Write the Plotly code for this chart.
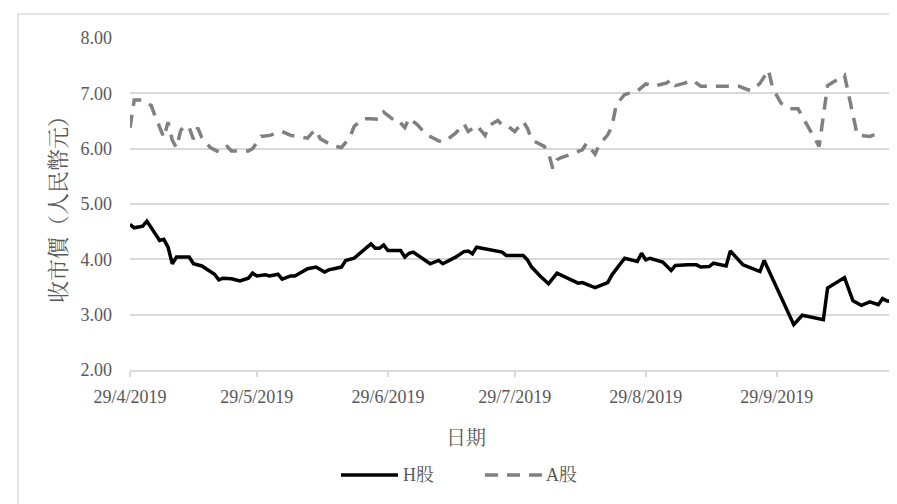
import plotly.graph_objects as go

# ---- data ----
h_dates = [
    "2019-04-29", "2019-04-30", "2019-05-02", "2019-05-03", "2019-05-06", "2019-05-07",
    "2019-05-08", "2019-05-09", "2019-05-10", "2019-05-13", "2019-05-14", "2019-05-16",
    "2019-05-17", "2019-05-19", "2019-05-20", "2019-05-21", "2019-05-23", "2019-05-25",
    "2019-05-27", "2019-05-28", "2019-05-29", "2019-05-31", "2019-06-01", "2019-06-03",
    "2019-06-04", "2019-06-06", "2019-06-07", "2019-06-10", "2019-06-12", "2019-06-14",
    "2019-06-15", "2019-06-18", "2019-06-19", "2019-06-21", "2019-06-25", "2019-06-26",
    "2019-06-27", "2019-06-28", "2019-06-29", "2019-07-02", "2019-07-03", "2019-07-04",
    "2019-07-05", "2019-07-09", "2019-07-11", "2019-07-12", "2019-07-15", "2019-07-17",
    "2019-07-18", "2019-07-19", "2019-07-20", "2019-07-22", "2019-07-25", "2019-07-26",
    "2019-07-27", "2019-07-31", "2019-08-01", "2019-08-02", "2019-08-04", "2019-08-06",
    "2019-08-08", "2019-08-10", "2019-08-12", "2019-08-13", "2019-08-14", "2019-08-17",
    "2019-08-20", "2019-08-21", "2019-08-24", "2019-08-27", "2019-08-28", "2019-08-29",
    "2019-08-30", "2019-09-02", "2019-09-04", "2019-09-05", "2019-09-08", "2019-09-10",
    "2019-09-11", "2019-09-13", "2019-09-14", "2019-09-17", "2019-09-18", "2019-09-21",
    "2019-09-23", "2019-09-25", "2019-09-26", "2019-10-03", "2019-10-05", "2019-10-10",
    "2019-10-11", "2019-10-15", "2019-10-17", "2019-10-19", "2019-10-21", "2019-10-23",
    "2019-10-24", "2019-10-25", "2019-10-26",
]
h_values = [
    4.63, 4.57, 4.60, 4.69, 4.34, 4.36,
    4.22, 3.92, 4.04, 4.04, 3.92, 3.88,
    3.83, 3.73, 3.63, 3.66, 3.65, 3.61,
    3.66, 3.75, 3.70, 3.72, 3.70, 3.73,
    3.64, 3.70, 3.70, 3.83, 3.86, 3.77,
    3.81, 3.86, 3.98, 4.02, 4.28, 4.20,
    4.20, 4.26, 4.16, 4.16, 4.04, 4.11,
    4.13, 3.92, 3.98, 3.92, 4.04, 4.14,
    4.15, 4.10, 4.22, 4.19, 4.14, 4.13,
    4.07, 4.07, 3.99, 3.86, 3.70, 3.56,
    3.75, 3.68, 3.62, 3.57, 3.58, 3.49,
    3.58, 3.72, 4.02, 3.96, 4.11, 3.99,
    4.02, 3.95, 3.80, 3.89, 3.90, 3.90,
    3.86, 3.87, 3.93, 3.88, 4.15, 3.90,
    3.84, 3.78, 3.98, 2.82, 2.99, 2.91,
    3.48, 3.67, 3.25, 3.17, 3.23, 3.18,
    3.29, 3.25, 3.24,
]

a_dates = [
    "2019-04-29", "2019-04-30", "2019-05-02", "2019-05-04", "2019-05-05", "2019-05-06",
    "2019-05-07", "2019-05-08", "2019-05-09", "2019-05-10", "2019-05-11", "2019-05-12",
    "2019-05-13", "2019-05-14", "2019-05-15", "2019-05-16", "2019-05-18", "2019-05-20",
    "2019-05-22", "2019-05-23", "2019-05-27", "2019-05-28", "2019-05-30", "2019-06-01",
    "2019-06-04", "2019-06-06", "2019-06-10", "2019-06-11", "2019-06-12", "2019-06-13",
    "2019-06-16", "2019-06-18", "2019-06-20", "2019-06-21", "2019-06-23", "2019-06-25",
    "2019-06-27", "2019-06-28", "2019-06-30", "2019-07-01", "2019-07-03", "2019-07-04",
    "2019-07-06", "2019-07-08", "2019-07-11", "2019-07-12", "2019-07-13", "2019-07-15",
    "2019-07-17", "2019-07-18", "2019-07-20", "2019-07-22", "2019-07-23", "2019-07-25",
    "2019-07-26", "2019-07-27", "2019-07-29", "2019-07-31", "2019-08-01", "2019-08-02",
    "2019-08-05", "2019-08-06", "2019-08-07", "2019-08-08", "2019-08-09", "2019-08-11",
    "2019-08-14", "2019-08-15", "2019-08-17", "2019-08-18", "2019-08-20", "2019-08-21",
    "2019-08-22", "2019-08-24", "2019-08-27", "2019-08-29", "2019-08-31", "2019-09-03",
    "2019-09-04", "2019-09-05", "2019-09-07", "2019-09-09", "2019-09-11", "2019-09-14",
    "2019-09-17", "2019-09-20", "2019-09-22", "2019-09-23", "2019-09-25", "2019-09-27",
    "2019-09-28", "2019-09-30", "2019-10-02", "2019-10-04", "2019-10-06", "2019-10-08",
    "2019-10-09", "2019-10-11", "2019-10-13", "2019-10-15", "2019-10-18", "2019-10-21",
    "2019-10-22", "2019-10-23",
]
a_values = [
    6.38, 6.88, 6.88, 6.78, 6.58, 6.37,
    6.20, 6.48, 6.15, 6.02, 6.33, 6.42,
    6.38, 6.17, 6.38, 6.20, 6.02, 5.94,
    6.04, 5.96, 5.96, 6.00, 6.22, 6.24,
    6.31, 6.24, 6.19, 6.28, 6.34, 6.18,
    6.05, 6.02, 6.20, 6.40, 6.54, 6.54,
    6.53, 6.66, 6.54, 6.55, 6.38, 6.55,
    6.43, 6.26, 6.14, 6.12, 6.16, 6.28,
    6.45, 6.31, 6.42, 6.24, 6.42, 6.51,
    6.43, 6.43, 6.31, 6.49, 6.37, 6.16,
    6.04, 5.92, 5.64, 5.80, 5.84, 5.89,
    5.98, 6.10, 5.90, 6.07, 6.25, 6.40,
    6.79, 6.98, 7.04, 7.17, 7.13, 7.19,
    7.25, 7.14, 7.18, 7.24, 7.13, 7.13,
    7.13, 7.13, 7.07, 7.05, 7.18, 7.42,
    7.10, 6.82, 6.72, 6.72, 6.45, 6.16,
    6.04, 7.14, 7.24, 7.33, 6.25, 6.22,
    6.25, 6.27,
]

x_tick_dates = ["2019-04-29", "2019-05-29", "2019-06-29", "2019-07-29", "2019-08-29", "2019-09-29"]
x_tick_labels = ["29/4/2019", "29/5/2019", "29/6/2019", "29/7/2019", "29/8/2019", "29/9/2019"]
y_tick_values = [2, 3, 4, 5, 6, 7, 8]
y_tick_labels = ["2.00", "3.00", "4.00", "5.00", "6.00", "7.00", "8.00"]

series_names = ["H股", "A股"]
series_colors = ["#000000", "#808080"]
series_dash = ["solid", "13px,9px"]
x_title = "日期"
y_title = "收市價（人民幣元）"

FONT = "Liberation Serif, 'Noto Serif CJK TC', 'Noto Sans CJK TC', serif"
TXT = "#595959"
GRID = "#d9d9d9"
LW = 3.5

fig = go.Figure()
fig.add_trace(go.Scatter(
    x=h_dates, y=h_values, mode="lines", name=series_names[0], showlegend=False,
    line=dict(color=series_colors[0], width=LW, dash=series_dash[0]),
))
fig.add_trace(go.Scatter(
    x=a_dates, y=a_values, mode="lines", name=series_names[1], showlegend=False,
    line=dict(color=series_colors[1], width=LW, dash=series_dash[1]),
))

W, H = 897, 504
ML, MR, MT, MB = 122, 14, 30, 142
pw, ph = W - ML - MR, H - MT - MB


def px(x):
    return (x - ML) / pw


def py(y):
    return (H - MB - y) / ph


# legend drawn as line samples + labels (wider samples, like the reference)
legend_y = 467
legend_items = [(333, 390, 393), (477, 535, 536)]  # sample x0, x1, label x
shapes = [
    dict(type="rect", xref="paper", yref="paper",
         x0=px(10), x1=px(887), y0=py(498), y1=py(6),
         line=dict(color=GRID, width=1.5), fillcolor="rgba(0,0,0,0)", layer="below"),
]
annotations = [
    dict(text=x_title, xref="paper", yref="paper", x=px(458), y=py(430),
         xanchor="center", yanchor="middle", showarrow=False,
         font=dict(family=FONT, size=20, color=TXT)),
    dict(text=y_title, xref="paper", yref="paper", x=px(50), y=py(196),
         xanchor="center", yanchor="middle", showarrow=False, textangle=-90,
         font=dict(family=FONT, size=22, color=TXT)),
]
for i, (sx0, sx1, lx) in enumerate(legend_items):
    shapes.append(dict(type="line", xref="paper", yref="paper",
                       x0=px(sx0), x1=px(sx1), y0=py(legend_y), y1=py(legend_y),
                       line=dict(color=series_colors[i], width=LW, dash=series_dash[i])))
    annotations.append(dict(text=series_names[i], xref="paper", yref="paper",
                            x=px(lx), y=py(legend_y), xanchor="left", yanchor="middle",
                            showarrow=False, font=dict(family=FONT, size=18, color=TXT)))

fig.update_layout(
    width=W, height=H,
    margin=dict(l=ML, r=MR, t=MT, b=MB, pad=0),
    paper_bgcolor="white", plot_bgcolor="white",
    font=dict(family=FONT, size=18, color=TXT),
    showlegend=False,
    xaxis=dict(
        type="date", range=["2019-04-29", "2019-10-26"],
        tickvals=x_tick_dates, ticktext=x_tick_labels,
        showgrid=False, showline=True, linecolor=GRID, linewidth=1.5,
        ticks="outside", ticklen=5, tickcolor=GRID, tickwidth=1.5,
        ticklabelstandoff=5,
        tickfont=dict(family=FONT, size=18, color=TXT),
        zeroline=False,
    ),
    yaxis=dict(
        range=[2, 8], tickvals=y_tick_values, ticktext=y_tick_labels,
        showgrid=True, gridcolor=GRID, gridwidth=1.5,
        showline=False, zeroline=False, ticks="",
        ticklabelstandoff=17,
        tickfont=dict(family=FONT, size=18, color=TXT),
    ),
    annotations=annotations,
    shapes=shapes,
)

fig.write_html("out.html")
